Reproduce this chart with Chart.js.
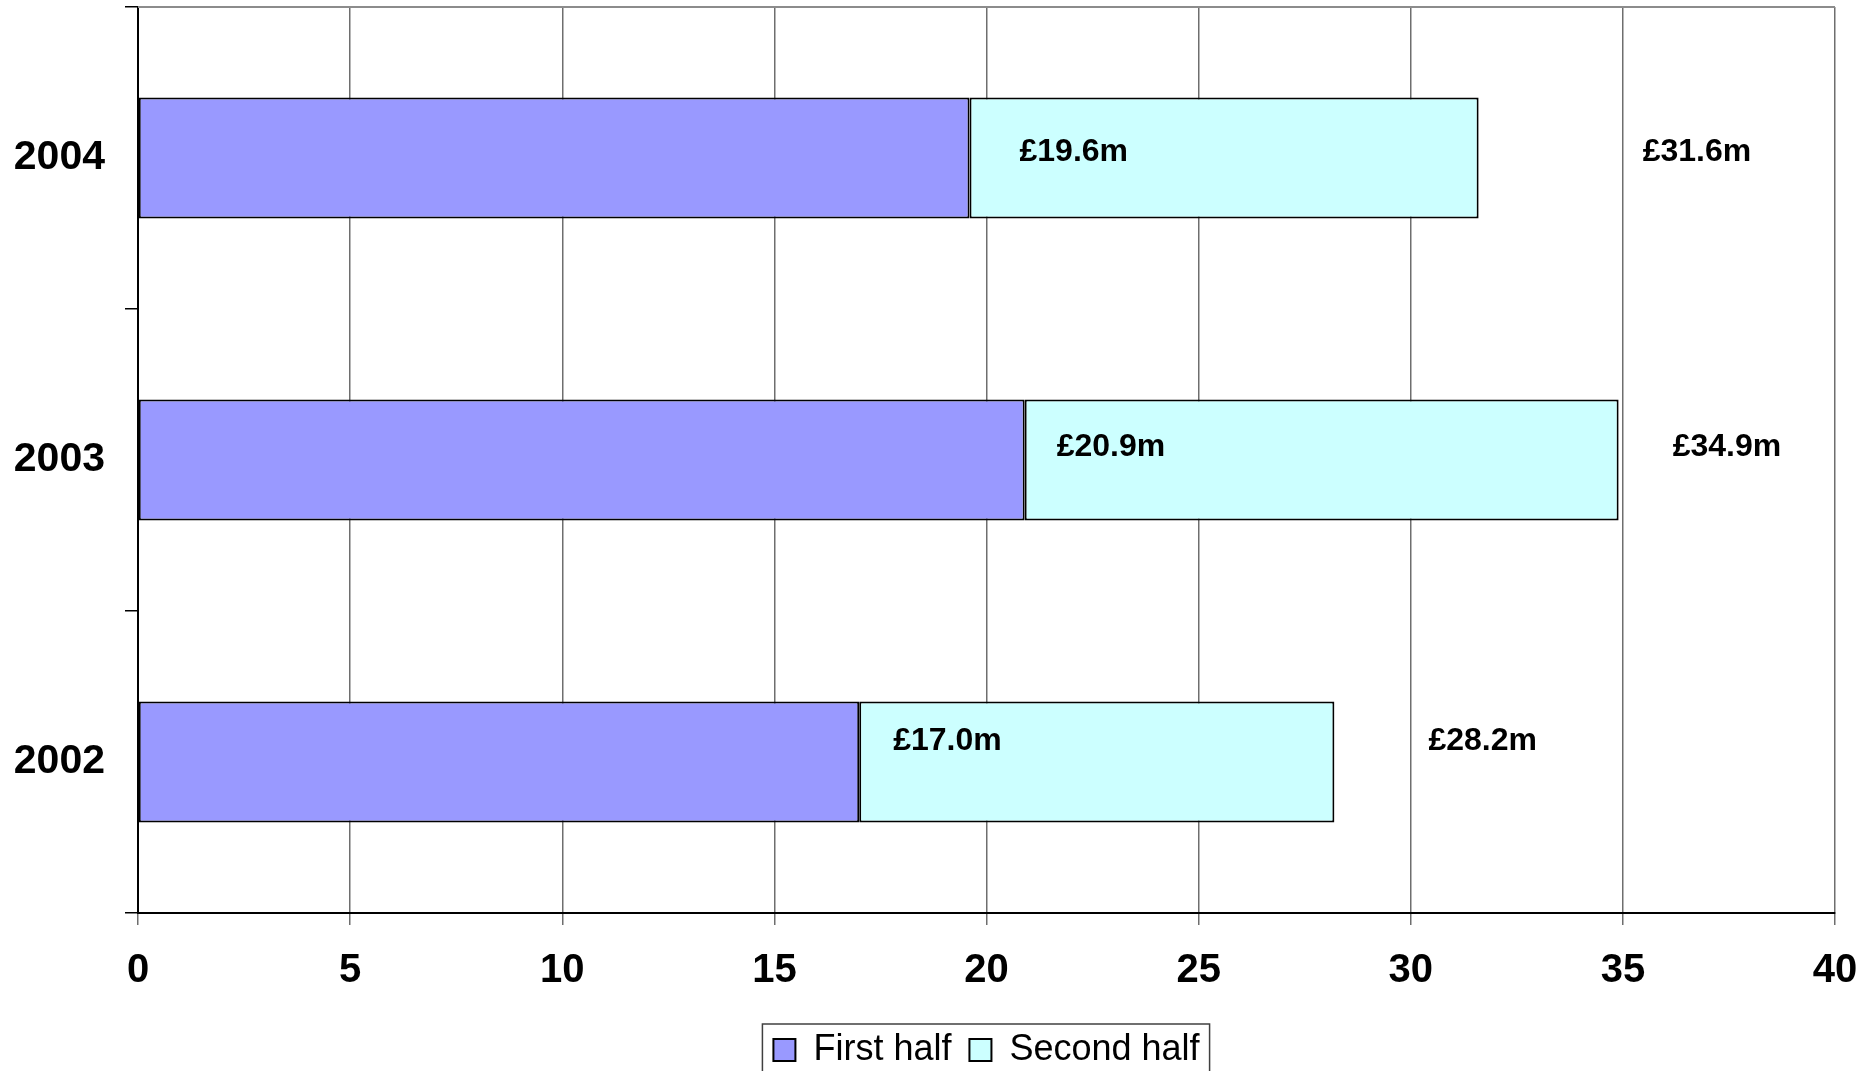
<!DOCTYPE html>
<html>
<head>
<meta charset="utf-8">
<script src="https://cdn.jsdelivr.net/npm/chart.js@4"></script>
<style>
    html, body { margin: 0; padding: 0; background: #fff; overflow: hidden; }
    canvas { display: block; }
</style>
</head>
<body>
<canvas id="halfChart" width="1868" height="1078"></canvas>
<script>
// data
const years = ['2004', '2003', '2002'];
const firstHalf = [19.6, 20.9, 17.0];
const secondHalf = [12.0, 14.0, 11.2];
const totals = [31.6, 34.9, 28.2];
const xTicks = [0, 5, 10, 15, 20, 25, 30, 35, 40];

// where the value labels sit (px, from the picture)
const firstLabelDx = [50, 32, 34];
const totalLabelDx = [164, 54, 94];
const labelDy = [-6, -13, -21];

const FONT = "'Liberation Sans', Arial, sans-serif";

const framePlugin = {
    id: 'frame',
    afterLayout(chart) {
        // centre the legend under the plot area, like Excel does
        const lg = chart.legend;
        const ca = chart.chartArea;
        const d = (ca.left + ca.right) / 2 - (lg.left + lg.right) / 2;
        lg.left += d;
        lg.right += d;
    },
    beforeDatasetsDraw(chart) {
        const { ctx, chartArea } = chart;
        ctx.save();
        ctx.strokeStyle = '#8c8c8c';
        ctx.lineWidth = 2;
        ctx.beginPath();
        ctx.moveTo(chartArea.left, chartArea.top);
        ctx.lineTo(chartArea.right, chartArea.top);
        ctx.stroke();
        ctx.restore();
    },
    afterDatasetsDraw(chart) {
        const { ctx } = chart;
        const xs = chart.scales.x, ys = chart.scales.y;
        ctx.save();
        ctx.fillStyle = '#000';
        ctx.font = 'bold 32px ' + FONT;
        ctx.textAlign = 'left';
        ctx.textBaseline = 'middle';
        years.forEach((y, i) => {
            const cy = ys.getPixelForValue(i) + labelDy[i];
            ctx.fillText('£' + firstHalf[i].toFixed(1) + 'm', xs.getPixelForValue(firstHalf[i]) + firstLabelDx[i], cy);
            ctx.fillText('£' + totals[i].toFixed(1) + 'm', xs.getPixelForValue(totals[i]) + totalLabelDx[i], cy);
        });
        ctx.restore();
    },
    afterDraw(chart) {
        // box round the legend
        const boxes = chart.legend.legendHitBoxes;
        if (!boxes || !boxes.length) return;
        const first = boxes[0], last = boxes[boxes.length - 1];
        const { ctx } = chart;
        ctx.save();
        ctx.strokeStyle = '#404040';
        ctx.lineWidth = 1.5;
        const left = first.left - 11;
        const right = last.left + last.width + 10;
        const top = first.top - 8;
        ctx.strokeRect(left, top, right - left, 200);
        ctx.restore();
    }
};

new Chart(document.getElementById('halfChart').getContext('2d'), {
    type: 'bar',
    data: {
        labels: years,
        datasets: [
            {
                label: 'First half',
                data: firstHalf,
                backgroundColor: '#9999FF',
                borderColor: '#000',
                borderWidth: 2,
                borderSkipped: false
            },
            {
                label: 'Second half',
                data: secondHalf,
                backgroundColor: '#CCFFFF',
                borderColor: '#000',
                borderWidth: 2,
                borderSkipped: false
            }
        ]
    },
    options: {
        indexAxis: 'y',
        responsive: false,
        animation: false,
        events: [],
        layout: { padding: { top: 7, left: 0, right: 33, bottom: 0 } },
        datasets: { bar: { categoryPercentage: 0.8, barPercentage: 0.5 } },
        scales: {
            x: {
                stacked: true,
                min: 0,
                max: 40,
                afterBuildTicks(scale) {
                    scale.ticks = xTicks.map(v => ({ value: v }));
                },
                afterFit(scale) {
                    scale.height = 101;
                    scale.paddingLeft = 0;
                    scale.paddingRight = 0;
                },
                grid: { color: '#6e6e6e', lineWidth: 1.5, tickLength: 12 },
                border: { display: true, color: '#000', width: 2 },
                ticks: {
                    color: '#000',
                    padding: 22,
                    maxRotation: 0,
                    font: { family: FONT, size: 40, weight: 'bold' }
                }
            },
            y: {
                stacked: true,
                afterFit(scale) {
                    scale.width = 138;
                    scale.paddingTop = 0;
                    scale.paddingBottom = 0;
                },
                grid: { drawOnChartArea: false, color: '#000', lineWidth: 1.5, tickLength: 13, offset: true },
                border: { display: true, color: '#000', width: 2 },
                ticks: {
                    color: '#000',
                    padding: 20,
                    font: { family: FONT, size: 41, weight: 'bold' }
                }
            }
        },
        plugins: {
            legend: {
                position: 'bottom',
                labels: {
                    color: '#000',
                    boxWidth: 22,
                    boxHeight: 22,
                    padding: 18,
                    font: { family: FONT, size: 36 }
                }
            },
            tooltip: { enabled: false }
        }
    },
    plugins: [framePlugin]
});
</script>
</body>
</html>
